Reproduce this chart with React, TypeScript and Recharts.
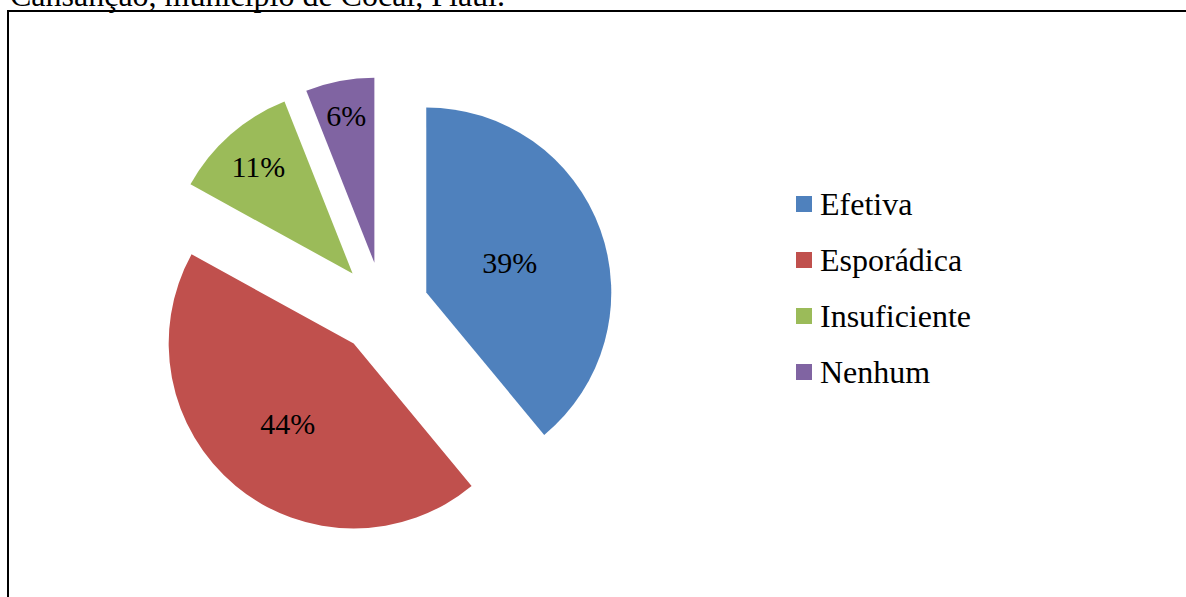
import React from "react";
import { PieChart, Pie, Cell, Sector, Legend } from "recharts";

/* ================= DATA ================= */

const categories = ["Efetiva", "Esporádica", "Insuficiente", "Nenhum"];
const shares = [39, 44, 11, 6];
const COLORS = ["#4F81BD", "#C0504D", "#9BBB59", "#8064A2"];
const caption = "Cansanção, município de Cocal, Piauí.";

const pieData = categories.map((name, i) => ({ name, value: shares[i] }));

/* ================= HELPERS ================= */

const RADIAN = Math.PI / 180;
const EXPLODE = 46;
// label distance from the slice tip, as a share of the radius
const LABEL_K = [0.48, 0.56, 0.77, 0.81];
const FONT = "'Liberation Serif', 'Times New Roman', serif";

// moves each slice away from the centre along its mid angle
function ExplodedSector(props: any) {
  const { cx, cy, midAngle } = props;
  const dx = EXPLODE * Math.cos(-midAngle * RADIAN);
  const dy = EXPLODE * Math.sin(-midAngle * RADIAN);
  return <Sector {...props} cx={cx + dx} cy={cy + dy} stroke="none" />;
}

function renderLabel(props: any) {
  const { cx, cy, midAngle, outerRadius, percent, index } = props;
  const r = EXPLODE + outerRadius * LABEL_K[index];
  const x = cx + r * Math.cos(-midAngle * RADIAN);
  const y = cy + r * Math.sin(-midAngle * RADIAN);
  return (
    <text
      x={x}
      y={y}
      fill="#000"
      textAnchor="middle"
      dominantBaseline="central"
      style={{ fontFamily: FONT, fontSize: 30 }}
    >
      {`${Math.round(percent * 100)}%`}
    </text>
  );
}

function LegendContent(props: any) {
  const { payload } = props;
  return (
    <div style={{ fontFamily: FONT, fontSize: 32, color: "#000" }}>
      {(payload || []).map((p: any, i: number) => (
        <div key={i} style={{ display: "flex", alignItems: "center", height: 56, lineHeight: "32px" }}>
          <span style={{ width: 16, height: 16, background: p.color, marginRight: 8, display: "inline-block" }} />
          <span>{p.value}</span>
        </div>
      ))}
    </div>
  );
}

/* ================= COMPONENT ================= */

export default function App() {
  return (
    <div style={styles.page}>
      <div style={styles.caption}>{caption}</div>
      <div style={styles.frame} />
      <PieChart width={1186} height={597} style={{ position: "absolute", left: 0, top: 0 }}>
        <Pie
          data={pieData}
          dataKey="value"
          nameKey="name"
          cx={378}
          cy={303}
          outerRadius={185}
          startAngle={90}
          endAngle={-270}
          stroke="none"
          shape={ExplodedSector}
          label={renderLabel}
          labelLine={false}
          isAnimationActive={false}
        >
          {pieData.map((_, i) => (
            <Cell key={i} fill={COLORS[i]} />
          ))}
        </Pie>
        <Legend
          layout="vertical"
          content={<LegendContent />}
          wrapperStyle={{ position: "absolute", left: 796, top: 176, width: 300 }}
        />
      </PieChart>
    </div>
  );
}

/* ================= STYLES ================= */

const styles: Record<string, React.CSSProperties> = {
  page: {
    position: "absolute",
    left: 0,
    top: 0,
    width: 1186,
    height: 597,
    overflow: "hidden",
    background: "#fff",
  },
  caption: {
    position: "absolute",
    left: 10,
    top: -21,
    fontFamily: FONT,
    fontSize: 32,
    lineHeight: "32px",
    whiteSpace: "nowrap",
    color: "#000",
  },
  frame: {
    position: "absolute",
    left: 7,
    top: 10,
    width: 1200,
    height: 620,
    border: "2px solid #000",
  },
};
